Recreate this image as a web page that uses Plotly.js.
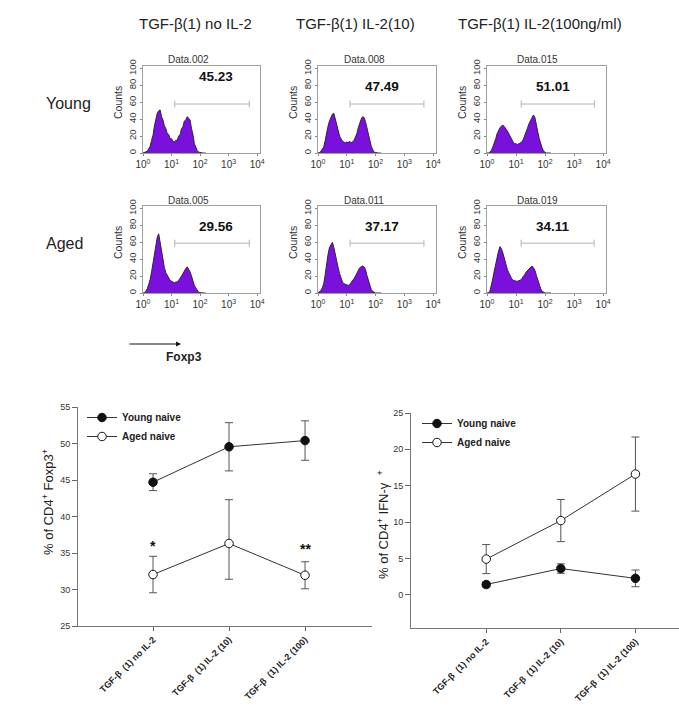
<!DOCTYPE html>
<html><head><meta charset="utf-8">
<script src="https://cdn.plot.ly/plotly-3.0.1.min.js"></script>
<style>html,body{margin:0;padding:0;background:#fff}</style>
</head><body>
<div id="chart" style="width:679px;height:716px"></div>
<script>
const FONT = 'Liberation Sans, Arial, Helvetica, sans-serif';

// ---------- Flow cytometry histograms (Foxp3) ----------
const channels = [1,1.12,1.26,1.41,1.58,1.78,2,2.24,2.51,2.82,3.16,3.55,3.98,4.47,5.01,5.62,6.31,7.08,7.94,8.91,10,11.2,12.6,14.1,15.8,17.8,20,22.4,25.1,28.2,31.6,35.5,39.8,44.7,50.1,56.2,63.1,70.8,79.4,89.1,100,112,126,141,158];
const conditions = ['TGF-β(1) no IL-2','TGF-β(1) IL-2(10)','TGF-β(1) IL-2(100ng/ml)'];
const groups = ['Young','Aged'];
const sampleNames = ['Data.002','Data.008','Data.015','Data.005','Data.011','Data.019'];
const gatePercent = ['45.23','47.49','51.01','29.56','37.17','34.11'];
const gateLow = [13,13,15,13,13,15];
const gateHigh = [5300,4800,5100,5300,4800,4900];
const gateLevel = [58,58,58,59,59,59];

const countsYoungNoIL2 = [0,0.5,1,2,5, 8,15,21,32,39, 47,50,51,43,39, 32,29,23,22,17, 17,14,13,15,15, 20,22,29,31,38, 39,43,41,39,29, 22,11,6,3,1, 0.5,0,0,0,0];
const countsYoungIL2_10 = [0,0.5,2,4,7, 15,25,32,38,43, 46,47,40,33,26, 20,17,14,13,12, 13,12,14,12,13, 15,19,23,30,36, 40,43,42,37,30, 21,14,8,4,1, 0.5,0,0,0,0];
const countsYoungIL2_100 = [0,0,1,3,7, 11,17,23,27,30, 32,33,31,29,26, 23,19,16,13,11, 11,10,11,12,13, 16,20,25,30,35, 39,42,45,42,35, 25,17,10,6,2, 0.5,0,0,0,0];
const countsAgedNoIL2 = [0,0.5,2,5,10, 16,25,36,48,58, 66,70,60,48,37, 30,24,21,18,15, 14,13,12,13,13, 15,17,20,23,27, 29,31,28,25,20, 14,9,6,3,1, 0.5,0,0,0,0];
const countsAgedIL2_10 = [0,1,3,6,11, 22,36,46,54,58, 60,54,45,37,30, 23,18,13,11,10, 9,9,10,12,14, 17,20,23,27,30, 31,32,31,28,21, 15,8,4,2,0.5, 0,0,0,0,0];
const countsAgedIL2_100 = [0,0.5,2,8,17, 26,35,43,50,55, 52,47,40,33,28, 24,20,17,15,14, 14,14,15,15,17, 19,22,25,27,29, 31,32,30,27,21, 15,9,5,2,0.5, 0,0,0,0,0];
const histCounts = [countsYoungNoIL2,countsYoungIL2_10,countsYoungIL2_100,countsAgedNoIL2,countsAgedIL2_10,countsAgedIL2_100];

const decadeTicks = [1,10,100,1000,10000];
const decadeLabels = ['10<sup>0</sup>','10<sup>1</sup>','10<sup>2</sup>','10<sup>3</sup>','10<sup>4</sup>'];
const countTicks = [0,20,40,60,80,100];

// ---------- Summary line charts ----------
const categories = ['TGF-β\u00a0 (1) no IL-2','TGF-β\u00a0 (1) IL-2 (10)','TGF-β\u00a0 (1) IL-2 (100)'];
const seriesNames = ['Young naive','Aged naive'];
const foxp3Young = [44.7, 49.55, 50.4];
const foxp3YoungErr = [1.15, 3.3, 2.7];
const foxp3Aged = [32.05, 36.3, 31.95];
const foxp3AgedErrUp = [2.5, 6.0, 1.85];
const foxp3AgedErrDown = [2.5, 4.9, 1.85];
const foxp3Sig = ['*','','**'];
const foxp3SigY = [35.9, null, 35.5];
const ifngYoung = [1.4, 3.6, 2.25];
const ifngYoungErr = [0.35, 0.65, 1.15];
const ifngAged = [4.9, 10.2, 16.6];
const ifngAgedErr = [2.0, 2.9, 5.1];

// ---------- Layout geometry (pixels) ----------
const W = 679, H = 716;
const px = v => v / W, py = v => 1 - v / H;
const colPx = [[143,260],[318,436],[487,606]];
const rowPx = [[66,153],[206,293]];
const titlePx = [[188,60],[364,60],[537,60],[188,200],[364,200],[537,200]];
const pctPx = [[216,77],[382,87],[553,87],[216,227],[382,227],[553,227]];

const data = [];
const layout = {
  width: W, height: H,
  margin: {l:0, r:0, t:0, b:0},
  paper_bgcolor: '#fff', plot_bgcolor: 'rgba(0,0,0,0)',
  font: {family: FONT, color: '#222', size: 10},
  showlegend: true,
  annotations: [], shapes: []
};

for (let i = 0; i < 6; i++) {
  const n = i + 1;
  const xa = n === 1 ? 'x' : 'x' + n, ya = n === 1 ? 'y' : 'y' + n;
  const xk = n === 1 ? 'xaxis' : 'xaxis' + n, yk = n === 1 ? 'yaxis' : 'yaxis' + n;
  const c = colPx[i % 3], r = rowPx[Math.floor(i / 3)];
  layout[xk] = {
    domain: [px(c[0]), px(c[1])], anchor: ya, type: 'log', range: [0, 4.1],
    tickvals: decadeTicks, ticktext: decadeLabels, ticks: 'outside', ticklen: 2,
    tickcolor: '#888', showline: true, linecolor: '#a0a0a0', linewidth: 1, mirror: true,
    showgrid: false, zeroline: false, tickfont: {size: 10, color: '#333'}, fixedrange: true
  };
  layout[yk] = {
    domain: [py(r[1]), py(r[0])], anchor: xa, range: [0, 103],
    tickvals: countTicks, tickangle: -90, ticks: 'outside', ticklen: 2, tickcolor: '#888',
    showline: true, linecolor: '#a0a0a0', linewidth: 1, mirror: true,
    showgrid: false, zeroline: false, tickfont: {size: 9.5, color: '#333'}, fixedrange: true
  };
  data.push({
    x: channels, y: histCounts[i], xaxis: xa, yaxis: ya, type: 'scatter', mode: 'lines',
    fill: 'tozeroy', fillcolor: '#7a10dc', line: {color: '#2a2a2a', width: 1},
    showlegend: false, hoverinfo: 'skip'
  });
  data.push({
    x: [gateLow[i], gateHigh[i]], y: [gateLevel[i], gateLevel[i]], xaxis: xa, yaxis: ya,
    type: 'scatter', mode: 'lines+markers', line: {color: '#b4b4b4', width: 1},
    marker: {symbol: 'line-ns-open', size: 5, line: {color: '#b4b4b4', width: 1}},
    showlegend: false, hoverinfo: 'skip'
  });
  layout.annotations.push({
    text: sampleNames[i], xref: 'paper', yref: 'paper', x: px(titlePx[i][0]), y: py(titlePx[i][1]),
    xanchor: 'center', yanchor: 'middle', showarrow: false,
    font: {size: 10, color: '#333'}
  });
  layout.annotations.push({
    text: '<b>' + gatePercent[i] + '</b>', xref: 'paper', yref: 'paper',
    x: px(pctPx[i][0]), y: py(pctPx[i][1]), xanchor: 'center', yanchor: 'middle', showarrow: false,
    font: {size: 13.5, color: '#111'}
  });
  layout.annotations.push({
    text: 'Counts', xref: 'paper', yref: 'paper', x: px(c[0] - 25), y: py(r[0] + 37),
    xanchor: 'center', yanchor: 'middle', textangle: -90, showarrow: false,
    font: {size: 10.5, color: '#333'}
  });
}

// column & row headers
const colTitleX = [196, 355, 540];
conditions.forEach((t, j) => layout.annotations.push({
  text: t, xref: 'paper', yref: 'paper', x: px(colTitleX[j]), y: py(24),
  xanchor: 'center', yanchor: 'middle', showarrow: false, font: {size: 15, color: '#222'}
}));
const rowTitleY = [104, 244];
groups.forEach((t, j) => layout.annotations.push({
  text: t, xref: 'paper', yref: 'paper', x: px(44), y: py(rowTitleY[j]),
  xanchor: 'left', yanchor: 'middle', showarrow: false, font: {size: 16, color: '#222'}
}));
// Foxp3 arrow
layout.annotations.push({
  text: '', xref: 'paper', yref: 'paper', x: px(181), y: py(344), ax: -53, ay: 0,
  showarrow: true, arrowhead: 2, arrowsize: 0.9, arrowwidth: 1.1, arrowcolor: '#111'
});
layout.annotations.push({
  text: '<b>Foxp3</b>', xref: 'paper', yref: 'paper', x: px(184), y: py(357),
  xanchor: 'center', yanchor: 'middle', showarrow: false, font: {size: 12, color: '#222'}
});

// ---------- Line charts axes ----------
const catAxis = (dom, anchor, range) => ({
  domain: dom, anchor: anchor, type: 'category', range: range, tickangle: -45,
  ticks: 'outside', ticklen: 4, tickcolor: '#666', showline: true, linecolor: '#777',
  linewidth: 1, showgrid: false, zeroline: false, fixedrange: true,
  tickfont: {size: 9, color: '#222', weight: 'bold'}
});
const valAxis = (dom, anchor, range) => ({
  domain: dom, anchor: anchor, range: range, dtick: 5, tick0: 0,
  ticks: 'outside', ticklen: 5, tickcolor: '#666', showline: true, linecolor: '#777',
  linewidth: 1, showgrid: false, zeroline: false, fixedrange: true,
  tickfont: {size: 9, color: '#333'}
});
layout.xaxis7 = catAxis([px(78), px(372)], 'y7', [-0.987, 2.881]);
layout.yaxis7 = valAxis([py(626), py(407)], 'x7', [25, 55]);
layout.xaxis8 = catAxis([px(411), 1], 'y8', [-1.008, 2.584]);
layout.yaxis8 = valAxis([py(628), py(413)], 'x8', [-4.58, 25]);

function series(y, errUp, errDown, name, filled, xa, ya, leg) {
  return {
    x: categories, y: y, xaxis: xa, yaxis: ya, name: name, legend: leg,
    type: 'scatter', mode: 'lines+markers',
    line: {color: '#333', width: 1},
    marker: {size: 8.5, color: filled ? '#111' : '#fff', line: {color: '#111', width: 1}},
    error_y: {type: 'data', symmetric: false, array: errUp, arrayminus: errDown, visible: true,
              color: '#555', thickness: 1, width: 4},
    hoverinfo: 'skip'
  };
}
data.push(series(foxp3Young, foxp3YoungErr, foxp3YoungErr, seriesNames[0], true, 'x7', 'y7', 'legend'));
data.push(series(foxp3Aged, foxp3AgedErrUp, foxp3AgedErrDown, seriesNames[1], false, 'x7', 'y7', 'legend'));
data.push(series(ifngYoung, ifngYoungErr, ifngYoungErr, seriesNames[0], true, 'x8', 'y8', 'legend2'));
data.push(series(ifngAged, ifngAgedErr, ifngAgedErr, seriesNames[1], false, 'x8', 'y8', 'legend2'));

const legendStyle = (x, y) => ({
  x: px(x), y: py(y), xanchor: 'left', yanchor: 'top', bgcolor: 'rgba(0,0,0,0)',
  borderwidth: 0, itemwidth: 30, tracegroupgap: 0, traceorder: 'normal',
  font: {family: FONT, size: 10, weight: 'bold', color: '#222'}
});
layout.legend = legendStyle(82, 403);
layout.legend2 = legendStyle(417, 409);

// significance marks
foxp3Sig.forEach((s, k) => {
  if (s) layout.annotations.push({
    text: '<b>' + s + '</b>', xref: 'x7', yref: 'y7', x: k, y: foxp3SigY[k],
    xanchor: 'center', yanchor: 'middle', showarrow: false, font: {size: 14, color: '#111'}
  });
});

// y-axis titles
layout.annotations.push({
  text: '% of CD4<sup>+</sup> Foxp3<sup>+</sup>', xref: 'paper', yref: 'paper',
  x: px(48), y: py(502), xanchor: 'center', yanchor: 'middle', textangle: -90,
  showarrow: false, font: {size: 13, color: '#222'}
});
layout.annotations.push({
  text: '% of CD4<sup>+</sup> IFN-γ\u00a0\u00a0<sup>+</sup>', xref: 'paper', yref: 'paper',
  x: px(383), y: py(525), xanchor: 'center', yanchor: 'middle', textangle: -90,
  showarrow: false, font: {size: 13, color: '#222'}
});

Plotly.newPlot('chart', data, layout, {staticPlot: true, displayModeBar: false});
</script>
</body></html>
